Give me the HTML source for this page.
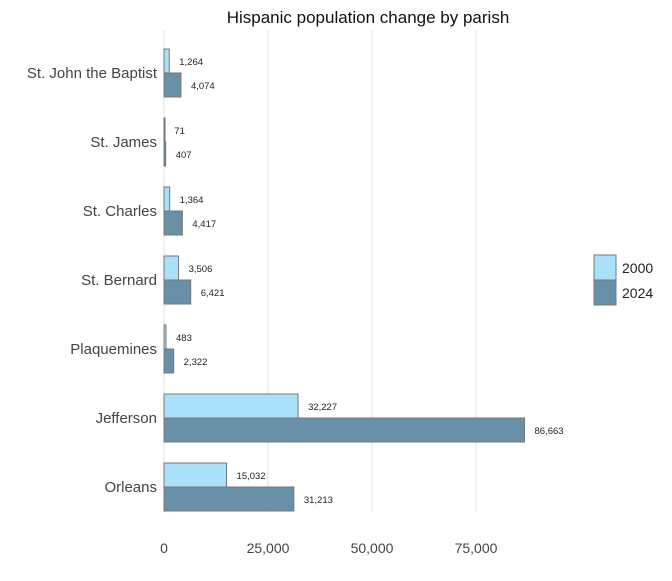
<!DOCTYPE html>
<html><head><meta charset="utf-8"><style>
body{margin:0;background:#fff;width:672px;height:576px;overflow:hidden}
text{font-family:"Liberation Sans",sans-serif}
</style></head><body>
<svg id="chart" width="672" height="576">
<text x="368" y="23" text-anchor="middle" font-size="17" fill="#111">Hispanic population change by parish</text>
<g id="grid"></g><g id="bars"></g><g id="labels"></g>
<g>
<rect x="594" y="255" width="22" height="25" fill="#a9e0fa" stroke="#777"/>
<text x="622" y="273" font-size="14" fill="#222">2000</text>
<rect x="594" y="280" width="22" height="25" fill="#6890a9" stroke="#777"/>
<text x="622" y="298" font-size="14" fill="#222">2024</text>
</g>
</svg>
<script>
const categories=["St. John the Baptist","St. James","St. Charles","St. Bernard","Plaquemines","Jefferson","Orleans"];
const values2000=[1264,71,1364,3506,483,32227,15032];
const values2024=[4074,407,4417,6421,2322,86663,31213];
const ticks=[0,25000,50000,75000];
const ns="http://www.w3.org/2000/svg";
const x0=164,pxPer=104/25000,plotTop=38.5,band=69;
const xs=v=>x0+v*pxPer;
const fmt=v=>v.toLocaleString("en-US");
function mk(tag,attrs,parent){const e=document.createElementNS(ns,tag);for(const k in attrs)e.setAttribute(k,attrs[k]);document.getElementById(parent).appendChild(e);return e;}
ticks.forEach(t=>{
 const l=mk("line",{x1:xs(t),x2:xs(t),y1:30,y2:512,stroke:"#e0e0e0","stroke-width":1},"grid");
 
 
 const tx=mk("text",{x:xs(t),y:553,"text-anchor":"middle","font-size":"14",fill:"#444"},"labels");
 tx.textContent=fmt(t);
 
 
});
categories.forEach((c,i)=>{
 const cy=plotTop+band*i+band/2;
 const ct=mk("text",{x:157,y:cy+5,"text-anchor":"end","font-size":"15",fill:"#444"},"labels");
 ct.textContent=c;
 
 
 [[values2000[i],"#a9e0fa",cy-24,"2000"],[values2024[i],"#6890a9",cy,"2024"]].forEach(([v,col,y,s])=>{
  const r=mk("rect",{x:x0,y:y,width:Math.max(v*pxPer,1),height:24,fill:col,stroke:"#777","stroke-width":1},"bars");
  
  
  const t=mk("text",{x:xs(v)+10,y:y+16,"font-size":"9.5",fill:"#222"},"labels");
  t.textContent=fmt(v);
  
  
 });
});
</script>
</body></html>
